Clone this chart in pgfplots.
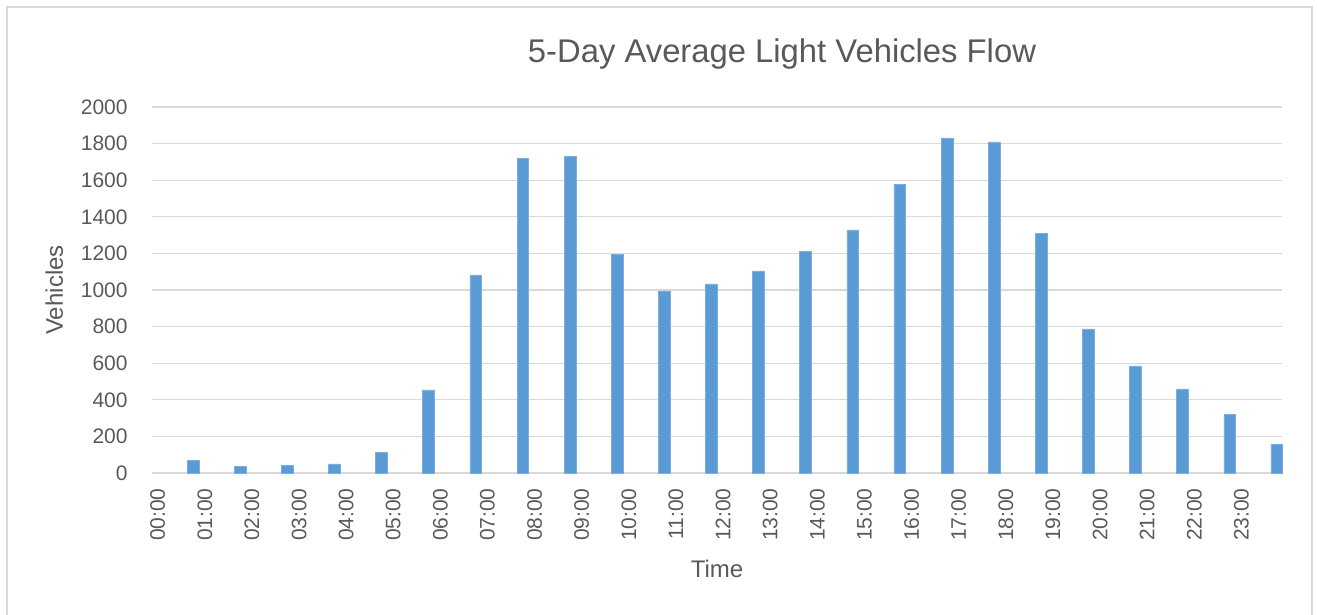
\documentclass[border=0pt]{standalone}
\usepackage{fontspec}
\setmainfont{Liberation Sans}
\usepackage{pgfplots}
\pgfplotsset{compat=1.18}

\definecolor{barblue}{HTML}{5B9BD5}
\definecolor{gridgray}{HTML}{D9D9D9}
\definecolor{txtgray}{HTML}{595959}

% hourly flow, bars sit 0.75 to the right of each label
\pgfplotstableread{
x     v
0.75  68
1.75  37
2.75  40
3.75  50
4.75  113
5.75  454
6.75  1082
7.75  1720
8.75  1732
9.75  1195
10.75 995
11.75 1033
12.75 1104
13.75 1213
14.75 1328
15.75 1579
16.75 1831
17.75 1809
18.75 1310
19.75 787
20.75 585
21.75 459
22.75 321
23.75 158
}\flowdata

\begin{document}
\begin{tikzpicture}
\path[use as bounding box] (0,0) rectangle (658.5pt,307.5pt);
\draw[gridgray, line width=0.75pt] (3.5pt,0) -- (3.5pt,304pt) -- (656pt,304pt) -- (656pt,0);

\begin{axis}[
    at={(76pt,71pt)}, anchor=south west,
    scale only axis,
    width=565pt, height=183pt,
    ybar, bar width=5.85pt,
    xmin=-0.12, xmax=23.86,
    ymin=0, ymax=2000,
    ytick={0,200,...,2000},
    xtick={0,...,23},
    xticklabels={00:00,01:00,02:00,03:00,04:00,05:00,06:00,07:00,08:00,09:00,10:00,11:00,
                 12:00,13:00,14:00,15:00,16:00,17:00,18:00,19:00,20:00,21:00,22:00,23:00},
    major tick length=0pt,
    axis x line*=bottom, axis y line*=left,
    y axis line style={draw=none},
    x axis line style={gridgray, line width=0.8pt},
    ymajorgrids, grid style={gridgray, line width=0.65pt},
    xticklabel style={rotate=90, anchor=east, inner sep=0pt, font=\fontsize{10.5}{12}\selectfont, text=txtgray},
    yticklabel style={anchor=east, inner sep=0pt, font=\fontsize{10.5}{12}\selectfont, text=txtgray},
    xticklabel shift=7.5pt,
    yticklabel shift=12pt,
    /pgf/number format/assume math mode=true,
    scaled y ticks=false,
    yticklabel={\pgfmathprintnumber[fixed,1000 sep={}]{\tick}},
    xlabel={Time}, ylabel={Vehicles},
    every axis x label/.style={at={(axis description cs:0.5,-0.2842)}, anchor=base,
        font=\fontsize{12}{14}\selectfont, text=txtgray},
    every axis y label/.style={at={(axis description cs:-0.0788,0.5)}, rotate=90, anchor=base,
        font=\fontsize{12}{14}\selectfont, text=txtgray},
    clip=false,
]
\addplot[fill=barblue, draw=barblue!80!white, line width=0.3pt] table[x=x, y=v] {\flowdata};
\end{axis}

\node[anchor=base, text=txtgray, font=\fontsize{16.4}{19}\selectfont] at (391pt,276pt) {5-Day Average Light Vehicles Flow};
\end{tikzpicture}
\end{document}
